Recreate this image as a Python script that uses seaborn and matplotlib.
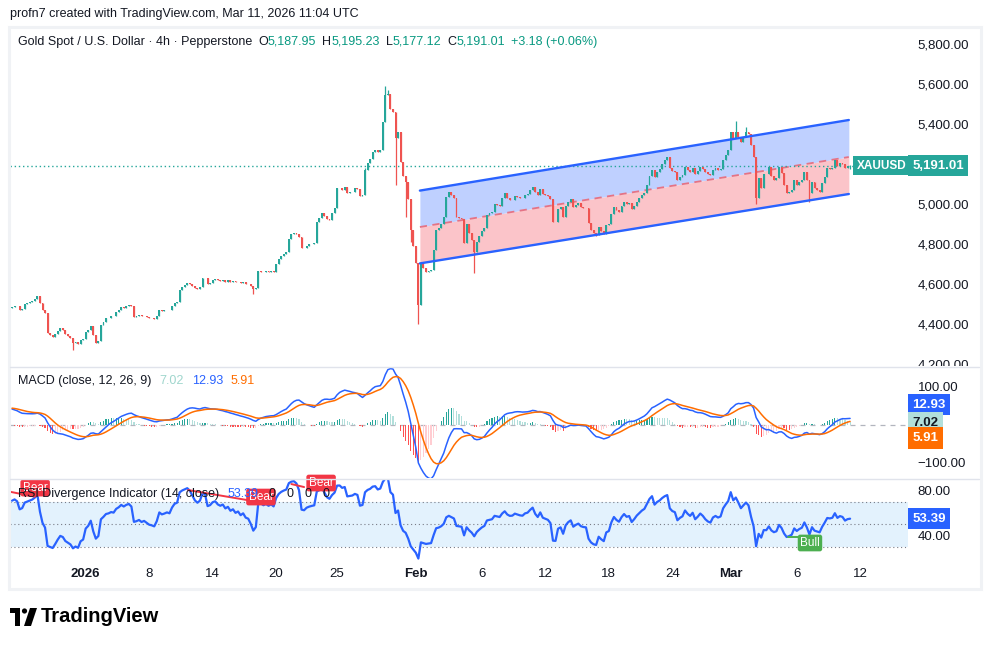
import numpy as np
import pandas as pd
import seaborn as sns
import matplotlib.pyplot as plt
from matplotlib.patches import Rectangle, Polygon, Circle

W, H = 989, 647

#* données (XAUUSD, bougies 4h)
first_open = 4480.0
closes = [
    4485, 4492, 4488, 4470, 4475, 4500, 4505, 4510, 4515, 4525,
    4540, 4503, 4470, 4453, 4353, 4345, 4337, 4350, 4365, 4378,
    4372, 4350, 4340, 4330, 4305, 4310, 4302, 4320, 4325, 4360,
    4370, 4390, 4345, 4305, 4315, 4395, 4410, 4428, 4432, 4440,
    4438, 4460, 4470, 4485, 4480, 4490, 4495, 4488, 4437, 4440,
    4445, 4438, 4442, 4436, 4430, 4428, 4425, 4440, 4470, 4465,
    4468, 4472, 4470, 4490, 4505, 4510, 4570, 4585, 4595, 4605,
    4600, 4590, 4580, 4575, 4585, 4630, 4628, 4600, 4605, 4620,
    4625, 4618, 4615, 4620, 4612, 4618, 4610, 4615, 4608, 4612,
    4605, 4610, 4602, 4600, 4590, 4575, 4582, 4665, 4662, 4658,
    4664, 4660, 4666, 4662, 4700, 4725, 4740, 4750, 4758, 4825,
    4848, 4855, 4850, 4835, 4780, 4778, 4792, 4798, 4802, 4805,
    4912, 4928, 4953, 4940, 4925, 4920, 4953, 4978, 5078, 5080,
    5072, 5085, 5053, 5058, 5062, 5078, 5075, 5040, 5045, 5170,
    5205, 5223, 5262, 5270, 5258, 5272, 5412, 5545, 5550, 5475,
    5460, 5328, 5362, 5212, 5140, 5112, 5023, 4870, 4790, 4703,
    4495, 4703, 4680, 4660, 4665, 4670, 4770, 4870, 4880, 4900,
    4935, 5037, 5062, 5045, 5030, 4935, 4930, 4925, 4803, 4900,
    4855, 4820, 4762, 4810, 4838, 4863, 4880, 4945, 4953, 4960,
    5000, 4995, 4990, 5028, 5053, 5030, 5020, 5022, 5040, 5035,
    5030, 5028, 5045, 5050, 5070, 5087, 5060, 5045, 5075, 5050,
    5045, 5040, 5025, 4912, 4910, 4975, 4983, 4937, 4990, 5012,
    5025, 4983, 4995, 5003, 4987, 4982, 4980, 4903, 4870, 4853,
    4847, 4885, 4865, 4850, 4893, 4900, 4950, 4987, 4970, 4960,
    4990, 5012, 4998, 5003, 4973, 4990, 5012, 5028, 5045, 5057,
    5095, 5140, 5170, 5135, 5160, 5175, 5200, 5220, 5233, 5178,
    5165, 5160, 5120, 5135, 5145, 5185, 5170, 5160, 5180, 5150,
    5165, 5185, 5175, 5160, 5150, 5145, 5170, 5178, 5172, 5177,
    5220, 5245, 5270, 5360, 5328, 5358, 5337, 5312, 5337, 5362,
    5350, 5295, 5237, 5028, 5128, 5078, 5150, 5148, 5185, 5140,
    5120, 5128, 5185, 5155, 5095, 5053, 5060, 5070, 5120, 5095,
    5110, 5120, 5162, 5120, 5053, 5112, 5078, 5070, 5062, 5103,
    5137, 5178, 5175, 5180, 5220, 5190, 5205, 5200, 5178, 5187.95,
    5191.01,
]
spike_highs = {139: 5180, 147: 5592, 148: 5570, 285: 5415, 289: 5385, 330: 5195.23}
spike_lows = {24: 4272, 95: 4548, 151: 5095, 155: 4937, 157: 4812, 160: 4398,
              182: 4655, 230: 4838, 293: 4998, 314: 5010, 330: 5177.12}

tick_bars = [29, 54, 79, 104, 128, 159, 185, 210, 235, 260, 283, 309, 334]
tick_labels = ["2026", "8", "14", "20", "25", "Feb", "6", "12", "18", "24", "Mar", "6", "12"]
bold_labels = ["2026", "Feb", "Mar"]
price_ticks = [4200, 4400, 4600, 4800, 5000, 5400, 5600, 5800]
macd_ticks = [100, -100]
rsi_ticks = [80, 40]

# canal parallèle (ancres)
channel_bars = [160.6, 329.5]
channel_upper = [5067, 5420]
channel_lower = [4703, 5050]

# valeurs de départ des indicateurs (lues à gauche)
macd_seed, signal_seed = 43.0, 43.0
rsi_gain_seed, rsi_loss_seed = 10.0, 4.3

# étiquettes de divergence
bear_bars = [9.1, 98, 121.7]
bear_levels = [81.7, 73.9, 86.1]
bear_lines = [([-0.8, 9], [78.5, 74.2]), ([69.3, 92.5], [80, 71.3]), ([110, 115], [85.2, 82.6])]
bull_bars = [314.2]
bull_levels = [33.9]
bull_lines = [([305.5, 309.5], [39.4, 39.4])]

UP, DOWN = "#26a69a", "#ef5350"
BLUE, ORANGE = "#2962ff", "#ff6d00"
DARK = "#131722"

#* préparation du tableau
df = pd.DataFrame({"close": closes})
df["bar"] = np.arange(len(df))
df["open"] = df["close"].shift(1).fillna(first_open)
df["high"] = df[["open", "close"]].max(axis=1)
df["low"] = df[["open", "close"]].min(axis=1)
for k, v in spike_highs.items():
    df.loc[k, "high"] = max(v, df.loc[k, "high"])
for k, v in spike_lows.items():
    df.loc[k, "low"] = min(v, df.loc[k, "low"])
df.loc[len(df) - 1, "open"] = 5187.95

# MACD (12, 26, 9)
e12, e26, sig = first_open, first_open - macd_seed, signal_seed
macd, signal = [], []
for c in df["close"]:
    e12 += 2 / 13 * (c - e12)
    e26 += 2 / 27 * (c - e26)
    m = e12 - e26
    sig += 2 / 10 * (m - sig)
    macd.append(m)
    signal.append(sig)
df["macd"] = macd
df["signal"] = signal
df["hist"] = df["macd"] - df["signal"]

# RSI 14 (Wilder)
ag, al = rsi_gain_seed, rsi_loss_seed
rsi = []
for ch in (df["close"] - df["open"]):
    ag = (ag * 13 + max(ch, 0)) / 14
    al = (al * 13 + max(-ch, 0)) / 14
    rsi.append(100 - 100 / (1 + ag / al))
df["rsi"] = rsi

#* figure
sns.set_theme(style="white")
plt.rcParams['font.family'] = ['Liberation Sans', 'DejaVu Sans']
fig = plt.figure(figsize=(W / 100, H / 100), dpi=100)


def zone(x0, y0, x1, y1):
    return [x0 / W, 1 - y1 / H, (x1 - x0) / W, (y1 - y0) / H]


ax_p = fig.add_axes(zone(10, 30, 908, 366))
ax_m = fig.add_axes(zone(10, 367, 908, 478), sharex=ax_p)
ax_r = fig.add_axes(zone(10, 479, 908, 560), sharex=ax_p)

# bougies
cols = np.where(df["close"] >= df["open"], UP, DOWN)
body = (df["close"] - df["open"]).abs().clip(lower=2)
ax_p.vlines(df["bar"], df["low"], df["high"], colors=cols, lw=0.9, zorder=3)
ax_p.bar(df["bar"], body, bottom=df[["open", "close"]].min(axis=1), width=0.75,
         color=cols, lw=0, zorder=3)

# canal
ub = np.array(channel_upper, float)
lb = np.array(channel_lower, float)
mid = (ub + lb) / 2
ax_p.fill_between(channel_bars, mid, ub, color="#bfd0ff", lw=0, zorder=1)
ax_p.fill_between(channel_bars, lb, mid, color="#fbc4c9", lw=0, zorder=1)
sns.lineplot(x=channel_bars, y=ub, ax=ax_p, color=BLUE, lw=1.7, zorder=4)
sns.lineplot(x=channel_bars, y=lb, ax=ax_p, color=BLUE, lw=1.7, zorder=4)
ax_p.plot(channel_bars, mid, color="#e57385", lw=1.3, ls=(0, (4, 3)), zorder=2)

last = df["close"].iloc[-1]
ax_p.hlines(last, -0.8, 334.5, color=UP, lw=1, ls=(0, (1, 2)), zorder=2)
ax_p.text(0.998, last, "XAUUSD", transform=ax_p.get_yaxis_transform(), ha="right",
          va="center", color="white", fontsize=8.5, fontweight="bold",
          bbox=dict(boxstyle="square,pad=0.3", fc=UP, ec="none"), zorder=6)

ax_p.set_xlim(-0.8, 352.8)
ax_p.set_ylim(4190, 5870)
ax_p.yaxis.tick_right()
ax_p.set_yticks(price_ticks)
ax_p.set_yticklabels([f"{v:,.2f}" for v in price_ticks])

# MACD
ax_m.axhline(0, color="#b2b5be", lw=0.9, ls=(0, (4, 4)), zorder=1)
hist = df["hist"].values
prev = np.r_[hist[0], hist[:-1]]
hcols = np.where(hist >= 0, np.where(hist > prev, "#26a69a", "#b2dfdb"),
                 np.where(hist > prev, "#ffcdd2", "#ff5252"))
ax_m.bar(df["bar"], df["hist"], width=0.45, color=hcols, lw=0, zorder=2)
sns.lineplot(data=df, x="bar", y="macd", ax=ax_m, color=BLUE, lw=1.1, zorder=3)
sns.lineplot(data=df, x="bar", y="signal", ax=ax_m, color=ORANGE, lw=1.1, zorder=3)
ax_m.set_ylim(-139, 149.4)
ax_m.yaxis.tick_right()
ax_m.set_yticks(macd_ticks)
ax_m.set_yticklabels(["100.00", "\u2212100.00"])

# RSI
ax_r.axhspan(30, 70, color="#e3f2fd", lw=0, zorder=0)
for lvl in (70, 50, 30):
    ax_r.axhline(lvl, color="#787b86", lw=0.8, ls=(0, (1, 2.5)), zorder=1)
sns.lineplot(data=df, x="bar", y="rsi", ax=ax_r, color=BLUE, lw=1.6, zorder=3)
for xs, ys in bear_lines:
    ax_r.plot(xs, ys, color="#f23645", lw=1.4, zorder=4)
for xs, ys in bull_lines:
    ax_r.plot(xs, ys, color="#4caf50", lw=1.4, zorder=4)
for b, v in zip(bear_bars, bear_levels):
    ax_r.text(b, v, "Bear", ha="center", va="center", color="white", fontsize=8.5,
              bbox=dict(boxstyle="round,pad=0.2,rounding_size=0.2", fc="#f23645", ec="none"),
              zorder=5, clip_on=False)
for b, v in zip(bull_bars, bull_levels):
    ax_r.text(b, v, "Bull", ha="center", va="center", color="white", fontsize=8.5,
              bbox=dict(boxstyle="round,pad=0.2,rounding_size=0.2", fc="#4caf50", ec="none"),
              zorder=5)
ax_r.set_ylim(19.1, 89.6)
ax_r.yaxis.tick_right()
ax_r.set_yticks(rsi_ticks)
ax_r.set_yticklabels(["80.00", "40.00"])
ax_r.set_xticks(tick_bars)
ax_r.set_xticklabels(tick_labels)
for t in ax_r.get_xticklabels():
    if t.get_text() in bold_labels:
        t.set_fontweight("bold")

for ax in (ax_p, ax_m, ax_r):
    ax.set_xlabel("")
    ax.set_ylabel("")
    ax.set_facecolor("none")
    for s in ax.spines.values():
        s.set_visible(False)
    ax.tick_params(axis="y", length=0, pad=7, labelsize=9.5, colors=DARK)
    ax.tick_params(axis="x", length=0, pad=6, labelsize=9.5, colors=DARK)
ax_p.tick_params(axis="x", labelbottom=False)
ax_m.tick_params(axis="x", labelbottom=False)


# étiquettes de valeur sur l'axe de droite
def boite(ax, y, txt, fond, coul, dy=0):
    ax.annotate(txt, xy=(1, y), xycoords=ax.get_yaxis_transform(), xytext=(3, dy),
                textcoords="offset points", ha="left", va="center", fontsize=9.5,
                color=coul, fontweight="bold", annotation_clip=False, zorder=8,
                bbox=dict(boxstyle="square,pad=0.35", fc=fond, ec="none"))


boite(ax_p, last, f"{last:,.2f}", UP, "white")
boite(ax_m, df["macd"].iloc[-1], "12.93", BLUE, "white", 10)
boite(ax_m, df["hist"].iloc[-1], "7.02", "#b2dfdb", DARK, -1)
boite(ax_m, df["signal"].iloc[-1], "5.91", ORANGE, "white", -12)
boite(ax_r, df["rsi"].iloc[-1], "53.39", BLUE, "white")

#* cadre, séparateurs, logo
deco = fig.add_axes([0, 0, 1, 1], zorder=10)
deco.set_xlim(0, W)
deco.set_ylim(H, 0)
deco.axis("off")
deco.add_patch(Rectangle((909, 366), 70, 6, fc="white", ec="none"))
deco.add_patch(Rectangle((8.5, 26.5), 972, 562, fill=False, ec="#f0f2f5", lw=2.2))
for yy in (366.5, 478.5):
    deco.plot([10, 979], [yy, yy], color="#e0e3eb", lw=1)
deco.add_patch(Rectangle((10, 608), 10, 5, fc="black", ec="none"))
deco.add_patch(Rectangle((15, 608), 5, 18, fc="black", ec="none"))
deco.add_patch(Circle((24.5, 611), 2.6, fc="black", ec="none"))
deco.add_patch(Polygon([(30, 608), (37, 608), (31, 626), (24, 626)], fc="black", ec="none"))
deco.text(41, 617, "TradingView", fontsize=14.5, fontweight="bold", color="black", va="center")

# textes en ligne
renderer = fig.canvas.get_renderer()


def ligne(x, y, morceaux, size=9):
    for txt, col, gap in morceaux:
        t = deco.text(x, y, txt, color=col, fontsize=size, va="center", ha="left")
        x += t.get_window_extent(renderer=renderer).width + gap


G = "#089981"
ligne(10, 14, [("profn7 created with TradingView.com, Mar 11, 2026 11:04 UTC", DARK, 0)])
ligne(18, 42, [("Gold Spot / U.S. Dollar \u00b7 4h \u00b7 Pepperstone", DARK, 6),
               ("O", DARK, 0), ("5,187.95", G, 6), ("H", DARK, 0), ("5,195.23", G, 6),
               ("L", DARK, 0), ("5,177.12", G, 6), ("C", DARK, 0), ("5,191.01", G, 6),
               ("+3.18 (+0.06%)", G, 0)])
ligne(18, 381, [("MACD (close, 12, 26, 9)", DARK, 8), ("7.02", "#9fd6cd", 8),
                ("12.93", BLUE, 8), ("5.91", ORANGE, 0)])
ligne(18, 494, [("RSI Divergence Indicator (14, close)", DARK, 8), ("53.39", BLUE, 10),
                ("0", DARK, 11), ("0", DARK, 11), ("0", DARK, 11), ("0", DARK, 0)])

fig.savefig("out.png", dpi=100)
